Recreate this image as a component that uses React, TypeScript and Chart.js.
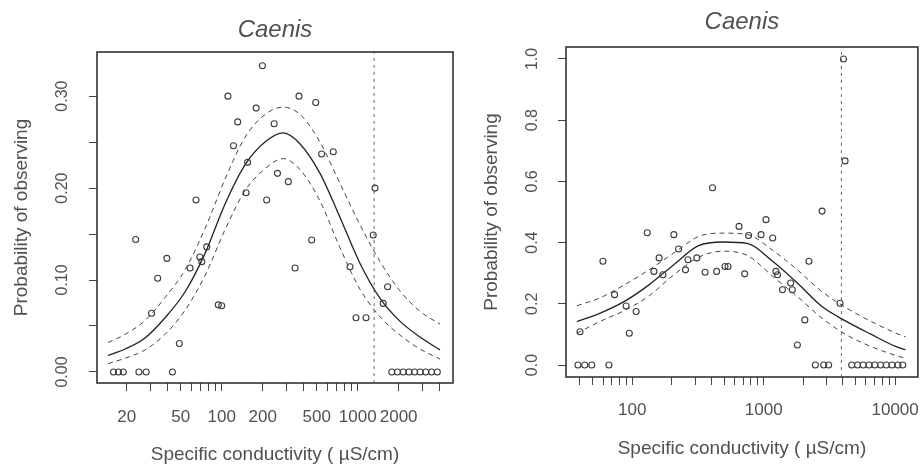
import React, { useEffect, useRef } from 'react';
import { Chart, registerables } from 'chart.js';

Chart.register(...registerables);

const FONT = '"Liberation Sans", Arial, Helvetica, sans-serif';
const TEXT = '#505050';

const titleText = 'Caenis';
const xAxisTitle = 'Specific conductivity ( \u00b5S/cm)';
const yAxisTitle = 'Probability of observing';

// ---------- Left panel ----------
const leftPointX = [199, 111, 370, 491, 179, 131, 243, 122, 543, 661, 155, 257, 309, 151, 1340, 64.7, 214, 23.3, 459, 1300, 39.5, 77.6, 71.3, 58.5, 69, 33.8, 346, 877, 1660, 94.4, 100, 30.5, 1540, 971, 1151, 48.8, 43.4, 16.0, 17.4, 18.9, 24.6, 27.8, 1780, 1960, 2160, 2380, 2620, 2880, 3170, 3490, 3850];
const leftPointY = [0.333, 0.300, 0.300, 0.293, 0.287, 0.272, 0.270, 0.246, 0.237, 0.2395, 0.228, 0.216, 0.207, 0.195, 0.200, 0.187, 0.187, 0.144, 0.1435, 0.149, 0.1235, 0.136, 0.120, 0.113, 0.125, 0.102, 0.113, 0.1145, 0.0927, 0.073, 0.072, 0.0638, 0.0746, 0.059, 0.059, 0.031, 0.0, 0, 0, 0, 0, 0, 0, 0, 0, 0, 0, 0, 0, 0, 0];
const leftFitX = [14.6, 19.5, 27.3, 38.3, 53.7, 75.4, 106, 148, 208, 283, 377, 528, 741, 1040, 1460, 2050, 2870, 4030];
const leftFit = [0.018, 0.025, 0.037, 0.059, 0.087, 0.129, 0.183, 0.225, 0.250, 0.260, 0.248, 0.216, 0.168, 0.118, 0.080, 0.055, 0.038, 0.024];
const leftUpper = [0.032, 0.041, 0.056, 0.081, 0.111, 0.156, 0.210, 0.255, 0.280, 0.288, 0.280, 0.250, 0.205, 0.160, 0.120, 0.088, 0.066, 0.052];
const leftLower = [0.009, 0.015, 0.024, 0.041, 0.067, 0.105, 0.155, 0.197, 0.221, 0.232, 0.220, 0.186, 0.135, 0.090, 0.060, 0.040, 0.025, 0.014];
const leftThreshold = 1320;
const leftXTicks = [20, 30, 40, 50, 60, 70, 80, 90, 100, 200, 300, 400, 500, 600, 700, 800, 900, 1000, 2000, 3000, 4000];
const leftXLabels = [20, 50, 100, 200, 500, 1000, 2000];
const leftYTicks = [0, 0.05, 0.1, 0.15, 0.2, 0.25, 0.3];
const leftYLabelValues = [0, 0.1, 0.2, 0.3];
const leftYLabelText = ['0.00', '0.10', '0.20', '0.30'];

// ---------- Right panel ----------
const rightPointX = [4045, 4160, 408, 2780, 130, 207, 1040, 649, 767, 955, 1170, 59.8, 2210, 160, 225, 265, 310, 254, 358, 438, 507, 535, 716, 171, 146, 1238, 1274, 1389, 1604, 1651, 73.3, 89.7, 107, 94.9, 2055, 3810, 1803, 40, 38.6, 43.5, 49.2, 66.4, 2470, 2860, 3120, 4670, 5170, 5720, 6330, 7000, 7750, 8570, 9480, 10500, 11430];
const rightPointY = [1.0, 0.667, 0.579, 0.503, 0.432, 0.426, 0.475, 0.453, 0.423, 0.426, 0.415, 0.339, 0.339, 0.350, 0.379, 0.344, 0.350, 0.311, 0.303, 0.306, 0.322, 0.322, 0.298, 0.295, 0.306, 0.306, 0.295, 0.246, 0.268, 0.246, 0.230, 0.193, 0.175, 0.104, 0.1475, 0.202, 0.0656, 0.109, 0, 0, 0, 0, 0, 0, 0, 0, 0, 0, 0, 0, 0, 0, 0, 0, 0];
const rightFitX = [37.9, 56.5, 87.1, 134, 207, 319, 492, 758, 1169, 1802, 2777, 4281, 6600, 10180, 12000];
const rightFit = [0.142, 0.169, 0.208, 0.262, 0.328, 0.390, 0.402, 0.397, 0.339, 0.268, 0.191, 0.142, 0.100, 0.060, 0.050];
const rightUpper = [0.194, 0.219, 0.262, 0.311, 0.366, 0.420, 0.431, 0.426, 0.375, 0.311, 0.240, 0.186, 0.142, 0.104, 0.092];
const rightLower = [0.104, 0.142, 0.178, 0.226, 0.295, 0.352, 0.372, 0.357, 0.290, 0.224, 0.153, 0.098, 0.060, 0.031, 0.022];
const rightThreshold = 3900;
const rightXTicks = [40, 50, 60, 70, 80, 90, 100, 200, 300, 400, 500, 600, 700, 800, 900, 1000, 2000, 3000, 4000, 5000, 6000, 7000, 8000, 9000, 10000];
const rightXLabels = [100, 1000, 10000];
const rightYTicks = [0, 0.2, 0.4, 0.6, 0.8, 1.0];
const rightYLabelValues = [0, 0.2, 0.4, 0.6, 0.8, 1.0];
const rightYLabelText = ['0.0', '0.2', '0.4', '0.6', '0.8', '1.0'];

type Panel = {
  pointX: number[]; pointY: number[];
  fitX: number[]; fit: number[]; upper: number[]; lower: number[];
  threshold: number;
  xMin: number; xMax: number; yMin: number; yMax: number;
  xTicks: number[]; xLabels: number[]; yTicks: number[];
  yLabelValues: number[]; yLabelText: string[];
  width: number; left: number;
  yAxisWidth: number; xAxisHeight: number; padRight: number;
  titleTop: number; titleBottom: number;
  xTickPad: number; xTitlePad: number; yTitlePad: number; yLabelX: number;
};

const leftPanel: Panel = {
  pointX: leftPointX, pointY: leftPointY,
  fitX: leftFitX, fit: leftFit, upper: leftUpper, lower: leftLower,
  threshold: leftThreshold,
  xMin: 12.1, xMax: 5020, yMin: -0.012, yMax: 0.348,
  xTicks: leftXTicks, xLabels: leftXLabels, yTicks: leftYTicks,
  yLabelValues: leftYLabelValues, yLabelText: leftYLabelText,
  width: 460, left: 0,
  yAxisWidth: 97, xAxisHeight: 83, padRight: 7,
  titleTop: 20, titleBottom: 12,
  xTickPad: 16, xTitlePad: 1, yTitlePad: 10, yLabelX: 63,
};

const rightPanel: Panel = {
  pointX: rightPointX, pointY: rightPointY,
  fitX: rightFitX, fit: rightFit, upper: rightUpper, lower: rightLower,
  threshold: rightThreshold,
  xMin: 31.3, xMax: 14900, yMin: -0.039, yMax: 1.039,
  xTicks: rightXTicks, xLabels: rightXLabels, yTicks: rightYTicks,
  yLabelValues: rightYLabelValues, yLabelText: rightYLabelText,
  width: 463, left: 460,
  yAxisWidth: 106, xAxisHeight: 89, padRight: 1,
  titleTop: 12, titleBottom: 15,
  xTickPad: 15, xTitlePad: 7, yTitlePad: 20, yLabelX: 73,
};

const frameAndLabels = {
  id: 'frameAndLabels',
  afterDraw(chart: any, _args: any, opts: any) {
    const { ctx, chartArea } = chart;
    const yScale = chart.scales.y;
    ctx.save();
    ctx.strokeStyle = '#333';
    ctx.lineWidth = 1.6;
    ctx.strokeRect(chartArea.left, chartArea.top, chartArea.right - chartArea.left, chartArea.bottom - chartArea.top);
    ctx.fillStyle = TEXT;
    ctx.font = `16px ${FONT}`;
    ctx.textAlign = 'center';
    ctx.textBaseline = 'middle';
    (opts.values as number[]).forEach((v, i) => {
      const py = yScale.getPixelForValue(v);
      ctx.save();
      ctx.translate(opts.x, py);
      ctx.rotate(-Math.PI / 2);
      ctx.fillText(opts.text[i], 0, 0);
      ctx.restore();
    });
    ctx.restore();
  },
};

function buildConfig(p: Panel): any {
  const points = p.pointX.map((x, i) => ({ x, y: p.pointY[i] }));
  const curve = (ys: number[]) => p.fitX.map((x, i) => ({ x, y: ys[i] }));
  const lineBase = { showLine: true, pointRadius: 0, cubicInterpolationMode: 'monotone', fill: false };
  return {
    type: 'scatter',
    data: {
      datasets: [
        { label: 'observed', data: points, showLine: false, pointStyle: 'circle', pointRadius: 3, borderWidth: 1.1, borderColor: '#3c3c3c', backgroundColor: 'rgba(0,0,0,0)' },
        { label: 'fit', data: curve(p.fit), ...lineBase, borderColor: '#222', borderWidth: 1.3 },
        { label: 'upper', data: curve(p.upper), ...lineBase, borderColor: '#444', borderWidth: 1, borderDash: [5, 4] },
        { label: 'lower', data: curve(p.lower), ...lineBase, borderColor: '#444', borderWidth: 1, borderDash: [5, 4] },
        { label: 'threshold', data: [{ x: p.threshold, y: p.yMin }, { x: p.threshold, y: p.yMax }], ...lineBase, borderColor: '#666', borderWidth: 1, borderDash: [3, 4] },
      ],
    },
    options: {
      animation: false,
      responsive: false,
      maintainAspectRatio: false,
      devicePixelRatio: 1,
      layout: { padding: { left: 0, right: p.padRight, top: 0, bottom: 0 } },
      plugins: {
        legend: { display: false },
        tooltip: { enabled: false },
        title: {
          display: true,
          text: titleText,
          fullSize: false,
          color: TEXT,
          font: { family: FONT, size: 24, style: 'italic', weight: 'normal', lineHeight: '20px' },
          padding: { top: p.titleTop, bottom: p.titleBottom },
        },
        frameAndLabels: { x: p.yLabelX, values: p.yLabelValues, text: p.yLabelText },
      },
      scales: {
        x: {
          type: 'logarithmic',
          position: 'bottom',
          min: p.xMin,
          max: p.xMax,
          afterBuildTicks: (s: any) => { s.ticks = p.xTicks.map((v) => ({ value: v })); },
          afterFit: (s: any) => { s.height = p.xAxisHeight; s.paddingLeft = 0; s.paddingRight = 0; },
          ticks: {
            autoSkip: false, maxRotation: 0, minRotation: 0, padding: p.xTickPad,
            color: TEXT, font: { family: FONT, size: 17 },
            callback: (v: any) => (p.xLabels.indexOf(Number(v)) >= 0 ? String(v) : ''),
          },
          grid: { drawOnChartArea: false, drawTicks: true, tickLength: 8, color: '#444', tickColor: '#444', lineWidth: 1 },
          border: { display: false },
          title: {
            display: true, text: xAxisTitle, color: TEXT,
            font: { family: FONT, size: 19, lineHeight: '20px' },
            padding: { top: 0, bottom: p.xTitlePad },
          },
        },
        y: {
          type: 'linear',
          position: 'left',
          min: p.yMin,
          max: p.yMax,
          afterBuildTicks: (s: any) => { s.ticks = p.yTicks.map((v) => ({ value: v })); },
          afterFit: (s: any) => { s.width = p.yAxisWidth; s.paddingTop = 0; s.paddingBottom = 0; },
          ticks: { display: false },
          grid: { drawOnChartArea: false, drawTicks: true, tickLength: 8, color: '#444', tickColor: '#444', lineWidth: 1 },
          border: { display: false },
          title: {
            display: true, text: yAxisTitle, color: TEXT,
            font: { family: FONT, size: 19 },
            padding: { top: p.yTitlePad, bottom: 0 },
          },
        },
      },
    },
    plugins: [frameAndLabels],
  };
}

function PanelChart({ panel }: { panel: Panel }) {
  const ref = useRef<HTMLCanvasElement | null>(null);
  useEffect(() => {
    if (!ref.current) return;
    const chart = new Chart(ref.current, buildConfig(panel));
    return () => chart.destroy();
  }, [panel]);
  return (
    <canvas
      ref={ref}
      width={panel.width}
      height={466}
      style={{ position: 'absolute', left: panel.left, top: 0, width: panel.width, height: 466 }}
    />
  );
}

export default function App() {
  return (
    <div style={{ position: 'absolute', left: 0, top: 0, width: 923, height: 466, background: '#fff', overflow: 'hidden' }}>
      <PanelChart panel={leftPanel} />
      <PanelChart panel={rightPanel} />
    </div>
  );
}
